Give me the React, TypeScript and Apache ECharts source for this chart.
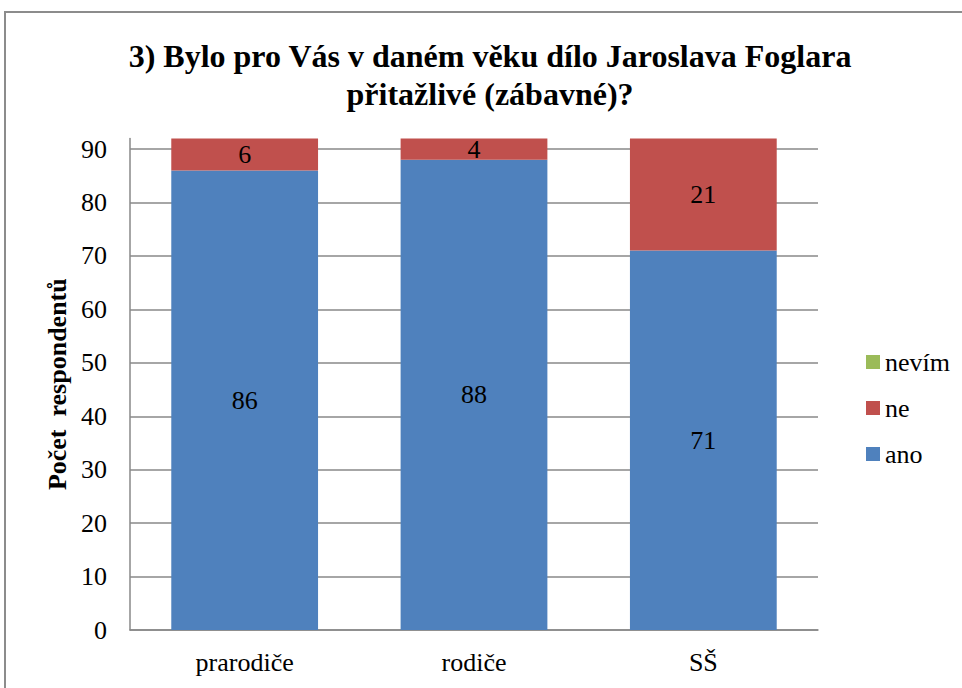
import React, { useEffect, useRef } from "react";
import * as echarts from "echarts";

const categories = ["prarodiče", "rodiče", "SŠ"];
const anoValues = [86, 88, 71];
const neValues = [6, 4, 21];
const nevimValues = [0, 0, 0];
const titleText = "3) Bylo pro Vás v daném věku dílo Jaroslava Foglara\npřitažlivé (zábavné)?";
const yAxisName = "Počet  respondentů";

const FONT = "Liberation Serif";

export default function App() {
  const ref = useRef<HTMLDivElement>(null);
  useEffect(() => {
    if (!ref.current) return;
    const chart = echarts.init(ref.current, undefined, { renderer: "svg" });
    const labelStyle = {
      show: true,
      position: "inside",
      color: "#000",
      fontFamily: FONT,
      fontSize: 26,
    };
    chart.setOption({
      animation: false,
      backgroundColor: "#fff",
      title: {
        text: titleText,
        left: 485,
        textAlign: "center",
        top: 32,
        textStyle: {
          fontFamily: FONT,
          fontWeight: "bold",
          fontSize: 32,
          lineHeight: 38,
          color: "#000",
        },
      },
      graphic: [
        {
          type: "rect",
          shape: { x: 5, y: 12, width: 1100, height: 1100 },
          style: { fill: "none", stroke: "#8c8c8c", lineWidth: 2 },
          silent: true,
        },
      ],
      legend: {
        orient: "vertical",
        left: 861,
        top: 344,
        itemWidth: 14,
        itemHeight: 14,
        itemGap: 20,
        data: ["nevím", "ne", "ano"],
        textStyle: { fontFamily: FONT, fontSize: 26, color: "#000", lineHeight: 26 },
        icon: "rect",
      },
      grid: { left: 130, right: 144, top: 138.4, bottom: 58, containLabel: false },
      xAxis: {
        type: "category",
        data: categories,
        axisLine: { lineStyle: { color: "#888", width: 1.5 } },
        axisTick: { show: false },
        axisLabel: { fontFamily: FONT, fontSize: 26, color: "#000", margin: 19 },
      },
      yAxis: {
        type: "value",
        min: 0,
        max: 92,
        interval: 10,
        name: yAxisName,
        nameLocation: "middle",
        nameGap: 60,
        nameTextStyle: { fontFamily: FONT, fontSize: 26, fontWeight: "bold", color: "#000" },
        axisLine: { show: true, lineStyle: { color: "#888", width: 1.5 } },
        axisTick: { show: false },
        axisLabel: { fontFamily: FONT, fontSize: 26, color: "#000", margin: 23, showMaxLabel: false },
        splitLine: { show: true, showMaxLine: false, lineStyle: { color: "#888", width: 1.5 } },
      },
      series: [
        {
          name: "ano",
          type: "bar",
          stack: "total",
          barWidth: "64%",
          data: anoValues,
          itemStyle: { color: "#4F81BD" },
          label: labelStyle,
        },
        {
          name: "ne",
          type: "bar",
          stack: "total",
          data: neValues,
          itemStyle: { color: "#C0504D" },
          label: labelStyle,
        },
        {
          name: "nevím",
          type: "bar",
          stack: "total",
          data: nevimValues,
          itemStyle: { color: "#9BBB59" },
          label: { show: false },
        },
      ],
    });
    return () => chart.dispose();
  }, []);
  return (
    <div
      ref={ref}
      style={{ position: "absolute", left: 0, top: 0, width: 962, height: 688 }}
    />
  );
}
